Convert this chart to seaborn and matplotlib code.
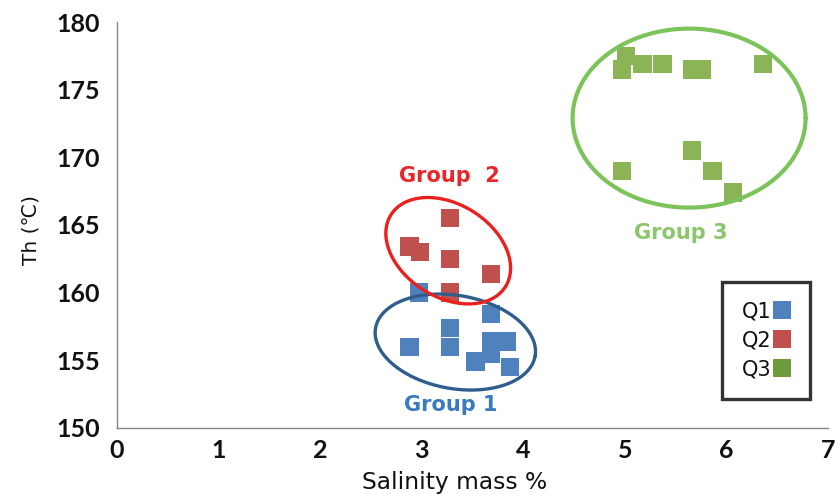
import numpy as np
import pandas as pd
import matplotlib
matplotlib.use("Agg")
import matplotlib.pyplot as plt
from matplotlib.lines import Line2D
import seaborn as sns

# Fluid inclusion measurements: salinity (mass %) vs homogenisation temperature Th (°C)
q1_salinity = [2.88, 2.97, 3.28, 3.28, 3.28, 3.68, 3.68, 3.84, 3.53, 3.68, 3.87]
q1_th = [156.0, 160.0, 160.0, 157.4, 156.0, 158.4, 156.4, 156.4, 154.9, 155.5, 154.5]

q2_salinity = [3.28, 2.88, 2.98, 3.28, 3.68, 3.28]
q2_th = [165.5, 163.4, 163.0, 162.5, 161.4, 160.0]

q3_salinity = [4.97, 5.01, 5.17, 5.37, 5.66, 5.76, 6.36, 4.97, 5.66, 5.86, 6.06]
q3_th = [176.5, 177.5, 176.9, 176.9, 176.5, 176.5, 176.9, 169.0, 170.5, 169.0, 167.4]

samples = ["Q1", "Q2", "Q3"]
marker_colors = ["#4F81BD", "#C0504D", "#8BB456"]
legend_colors = ["#4F81BD", "#C0504D", "#6E9A3E"]

group_labels = ["Group 1", "Group  2", "Group 3"]
label_colors = ["#3A7BBF", "#E8262A", "#8CC66A"]
ellipse_colors = ["#2F5D8C", "#E8211F", "#7CC35A"]

df = pd.concat([
    pd.DataFrame({"Salinity": q1_salinity, "Th": q1_th, "Sample": "Q1"}),
    pd.DataFrame({"Salinity": q2_salinity, "Th": q2_th, "Sample": "Q2"}),
    pd.DataFrame({"Salinity": q3_salinity, "Th": q3_th, "Sample": "Q3"}),
], ignore_index=True)

sns.set_style("white")
plt.rcParams["font.family"] = ["Lato", "DejaVu Sans"]

fig = plt.figure(figsize=(8.35, 4.98), dpi=100)
ax = fig.add_axes([0.140, 0.1406, 0.852, 0.8152])

sns.scatterplot(data=df, x="Salinity", y="Th", hue="Sample",
                palette=dict(zip(samples, marker_colors)), marker="s",
                s=175, linewidth=0, legend=False, ax=ax)

ax.set_xlim(0, 7)
ax.set_ylim(150, 180)
ax.set_xticks(range(0, 8))
ax.set_yticks(range(150, 181, 5))

for side in ["top", "right"]:
    ax.spines[side].set_visible(False)
for side in ["left", "bottom"]:
    ax.spines[side].set_color("#868686")
    ax.spines[side].set_linewidth(1.0)
ax.tick_params(axis="both", direction="out", length=4, width=1.0,
               color="#868686", labelsize=18, labelcolor="#111111")
ax.tick_params(axis="y", pad=8)
ax.tick_params(axis="x", pad=4)
for lab in ax.get_xticklabels() + ax.get_yticklabels():
    lab.set_fontweight("bold")
    lab.set_family(["Lato", "DejaVu Sans"])

ax.set_xlabel("Salinity mass %", fontsize=16.8, family=["DejaVu Sans"],
              color="#111111")
ax.xaxis.set_label_coords((454 - 117) / 711, -0.105)
ax.set_ylabel("Th (\u2103)", fontsize=14.5, family=["DejaVu Sans"],
              color="#111111")
ax.yaxis.set_label_coords(-0.108, (428 - 230) / 406)

# Group outlines, sized in screen pixels so the tilt is not distorted by the axis scales
fig.canvas.draw()
bbox = ax.get_window_extent()
px_x = bbox.width / 7.0
px_y = bbox.height / 30.0

ellipses = [
    # centre (data), semi-axes (px), angle (deg), line width
    ((3.33, 156.35), 81, 46.6, -10, 2.4),
    ((3.26, 163.1), 67.6, 46.4, -32, 2.4),
    ((5.63, 172.9), 116.5, 89.5, 0, 3.0),
]
t = np.linspace(0, 2 * np.pi, 400)
for (center, a, b, ang, lw), col in zip(ellipses, ellipse_colors):
    th = np.deg2rad(ang)
    ex = a * np.cos(t) * np.cos(th) - b * np.sin(t) * np.sin(th)
    ey = a * np.cos(t) * np.sin(th) + b * np.sin(t) * np.cos(th)
    ax.plot(center[0] + ex / px_x, center[1] + ey / px_y, color=col, lw=lw,
            solid_capstyle="round", zorder=4)

label_pos = [(3.28, 151.7), (3.27, 168.6), (5.55, 164.4)]
for (lx, ly), txt, col in zip(label_pos, group_labels, label_colors):
    ax.text(lx, ly, txt, color=col, fontsize=15, fontweight="bold",
            family=["DejaVu Sans"], ha="center", va="center")

handles = [Line2D([0], [0], marker="s", linestyle="none", markersize=12.5,
                  markerfacecolor=c, markeredgewidth=0) for c in legend_colors]
leg = ax.legend(handles, samples, loc="upper left",
                bbox_to_anchor=((722 - 117) / 711, (428 - 282) / 406),
                markerfirst=False, frameon=True, fancybox=False,
                prop={"family": "DejaVu Sans", "size": 15},
                handlelength=0.85, handletextpad=0.05, labelspacing=0.42,
                borderpad=0.95, borderaxespad=0)
leg.get_frame().set_edgecolor("black")
leg.get_frame().set_linewidth(2.4)
for txt in leg.get_texts():
    txt.set_color("#111111")

fig.savefig("out.png", dpi=100)
